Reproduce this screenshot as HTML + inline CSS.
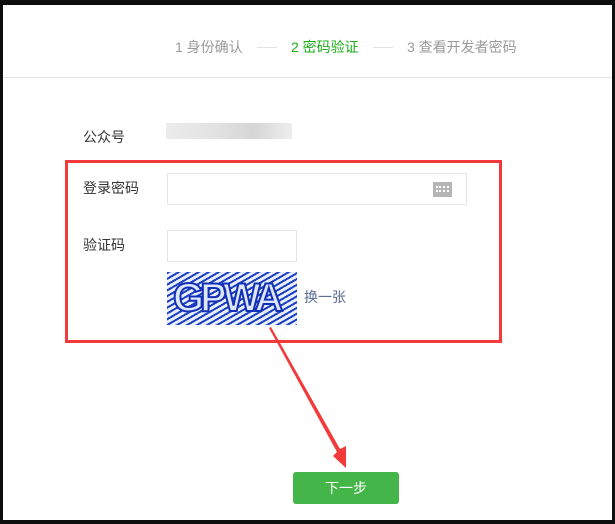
<!DOCTYPE html>
<html><head><meta charset="utf-8"><style>
body{margin:0;width:615px;height:524px;background:#0e0e0e;position:relative;overflow:hidden;font-family:"Liberation Sans","Noto Sans CJK SC",sans-serif;}
.w{position:absolute;left:3px;top:5px;width:609px;height:515px;background:#fff;}
.t{position:absolute;font-size:14px;line-height:16px;white-space:nowrap;}
.ln{position:absolute;top:47px;height:1px;width:20px;background:#dfe2e6;}
.box{position:absolute;border:1px solid #e4e6ea;background:#fff;}
</style></head><body>
<div class="w"></div>
<div class="t" style="left:175px;top:39px;color:#9a9a9a">1 身份确认</div>
<div class="ln" style="left:257px"></div>
<div class="t" style="left:291px;top:39px;color:#1aad19">2 密码验证</div>
<div class="ln" style="left:373px"></div>
<div class="t" style="left:407px;top:39px;color:#9a9a9a">3 查看开发者密码</div>
<div style="position:absolute;left:3px;top:77px;width:609px;height:1px;background:#e7e7e7"></div>
<div class="t" style="left:83px;top:129px;color:#333">公众号</div>
<div style="position:absolute;left:166px;top:123px;width:126px;height:16px;background:linear-gradient(90deg,#ececec,#e2e2e2 40%,#d6d6d6 70%,#eee)"></div>
<div class="t" style="left:83px;top:180px;color:#333">登录密码</div>
<div class="box" style="left:167px;top:173px;width:298px;height:30px"></div>
<div style="position:absolute;left:433px;top:182px;width:19px;height:15px;background:#b5b5b5"><div style="margin:4px 3px;height:2px;border-top:2px dotted #fff;border-bottom:2px dotted #fff"></div></div>
<div class="t" style="left:83px;top:237px;color:#333">验证码</div>
<div class="box" style="left:167px;top:230px;width:128px;height:30px"></div>
<div style="position:absolute;left:167px;top:272px;width:130px;height:53px;overflow:hidden;background:repeating-linear-gradient(150deg,#1b3fc4 0 2px,#e8eefc 2px 5px);">
<div class="t" style="left:6px;top:4px;font-size:40px;line-height:44px;font-weight:bold;color:#dde6fb;-webkit-text-stroke:2px #1230b5;letter-spacing:-4px">GPWA</div></div>
<div class="t" style="left:304px;top:289px;color:#5a6a94">换一张</div>
<div style="position:absolute;left:65px;top:160px;width:431px;height:177px;border:3px solid #f23a3a"></div>
<svg style="position:absolute;left:0;top:0" width="615" height="524"><polygon points="269,328 271,327 340,449 346,446 346,468 333,456 337,452" fill="#f23a3a"/></svg>
<div style="position:absolute;left:293px;top:472px;width:106px;height:32px;background:#44b549;border-radius:3px;color:#fff;font-size:14px;line-height:32px;text-align:center">下一步</div>
</body></html>
